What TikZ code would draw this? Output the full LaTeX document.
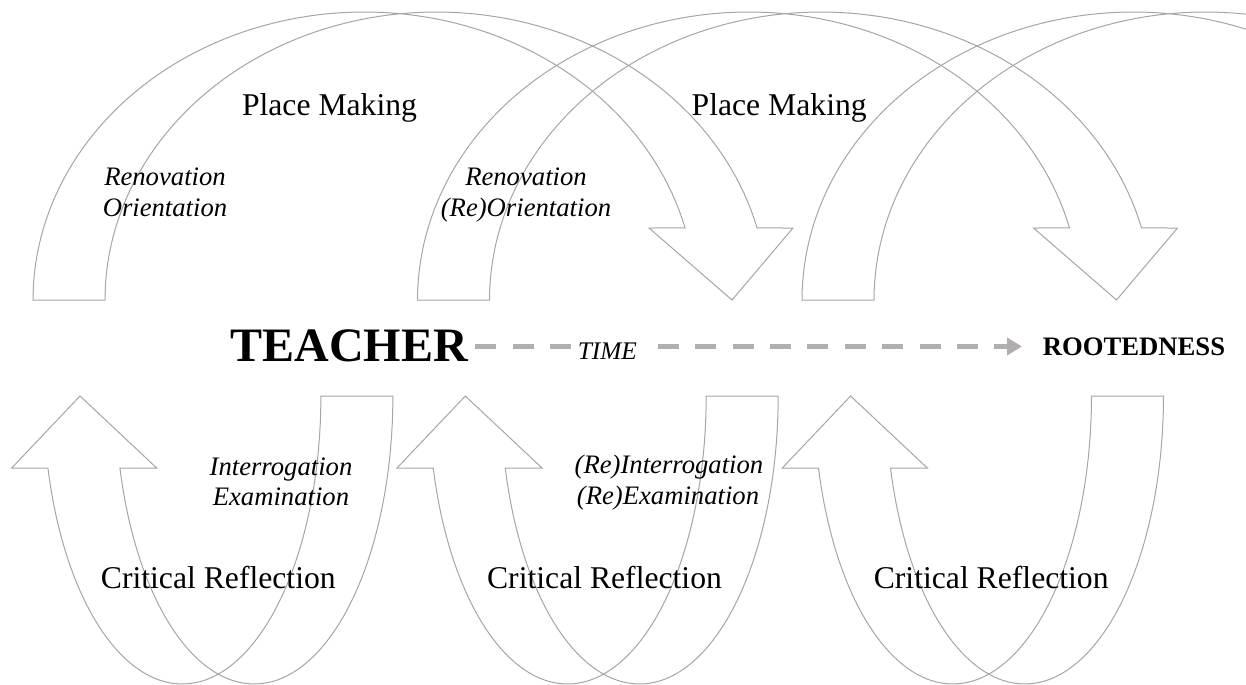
\documentclass[tikz,border=0pt]{standalone}
\usepackage{fontspec}
\setmainfont{Liberation Serif}
\usetikzlibrary{arrows.meta}
\definecolor{outline}{RGB}{165,165,165}
\definecolor{timegray}{RGB}{178,174,174}

\begin{document}
\begin{tikzpicture}[x=0.75pt,y=-0.75pt,
  curvearrow/.style={draw=outline, line width=0.75pt, line join=miter},
  timeline/.style={draw=timegray, line width=3.6pt, dash pattern=on 15.75pt off 12.3pt},
  big/.style={font=\fontsize{23.75}{28}\selectfont, inner sep=0pt, anchor=base},
  note/.style={font=\fontsize{20}{24}\selectfont\itshape, inner sep=0pt, anchor=base},
]
\useasboundingbox (0,0) rectangle (1246,685);
\clip (0,0) rectangle (1246,685);

% upper curved arrows (place making)
\foreach \k in {0,1,2}{
  \pgfmathsetmacro\dx{384.5*\k}
  \draw[curvearrow]
    plot[domain=180:345.52, samples=90, variable=\t] ({364.3+\dx+331.3*cos(\t)},{300+288*sin(\t)})
    -- (649+\dx,228) -- (732+\dx,300) -- (793+\dx,228)
    -- plot[domain=345.52:180, samples=90, variable=\t] ({436.3+\dx+331.3*cos(\t)},{300+288*sin(\t)})
    -- cycle;
}

% lower curved arrows (critical reflection)
\foreach \k in {0,1,2}{
  \pgfmathsetmacro\dx{385.3*\k}
  \draw[curvearrow]
    plot[domain=0:165.52, samples=90, variable=\t] ({182.2+\dx+138.7*cos(\t)},{396+288*sin(\t)})
    -- (11.7+\dx,468) -- (80+\dx,396) -- (156.7+\dx,468)
    -- plot[domain=165.52:0, samples=90, variable=\t] ({254.2+\dx+138.7*cos(\t)},{396+288*sin(\t)})
    -- cycle;
}

% labels
\node[big] (pm1) at (329.5,116) {Place Making};
\node[big] (pm2) at (779.2,115) {Place Making};
\node[note] (ren1) at (165,185) {Renovation};
\node[note] (ori1) at (165,216.7) {Orientation};
\node[note] (ren2) at (526,185) {Renovation};
\node[note] (ori2) at (526,216.7) {(Re)Orientation};
\node[note] (int1) at (281,475) {Interrogation};
\node[note] (exa1) at (281,505) {Examination};
\node[note] (int2) at (669,473) {(Re)Interrogation};
\node[note] (exa2) at (668,504) {(Re)Examination};
\node[big] (cr1) at (218.3,588) {Critical Reflection};
\node[big] (cr2) at (604.5,588) {Critical Reflection};
\node[big] (cr3) at (991.2,588) {Critical Reflection};

% time axis
\node[font=\fontsize{36}{40}\selectfont\bfseries, inner sep=0pt, anchor=base] (teacher) at (349.2,361) {TEACHER};
\node[font=\fontsize{19}{22}\selectfont\itshape, inner sep=0pt, anchor=base] (time) at (607.4,359.3) {TIME};
\node[font=\fontsize{20}{24}\selectfont\bfseries, inner sep=0pt, anchor=base] (root) at (1134,355) {ROOTEDNESS};
\coordinate (axis) at (0,346.5);
\draw[timeline, shorten <=5.3pt] (teacher.east |- axis) -- (time.west |- axis);
\draw[timeline, shorten <=15.5pt, shorten >=15.4pt, -{Triangle[length=11.25pt,width=12.75pt]}]
  (time.east |- axis) -- (root.west |- axis);
\end{tikzpicture}
\end{document}
